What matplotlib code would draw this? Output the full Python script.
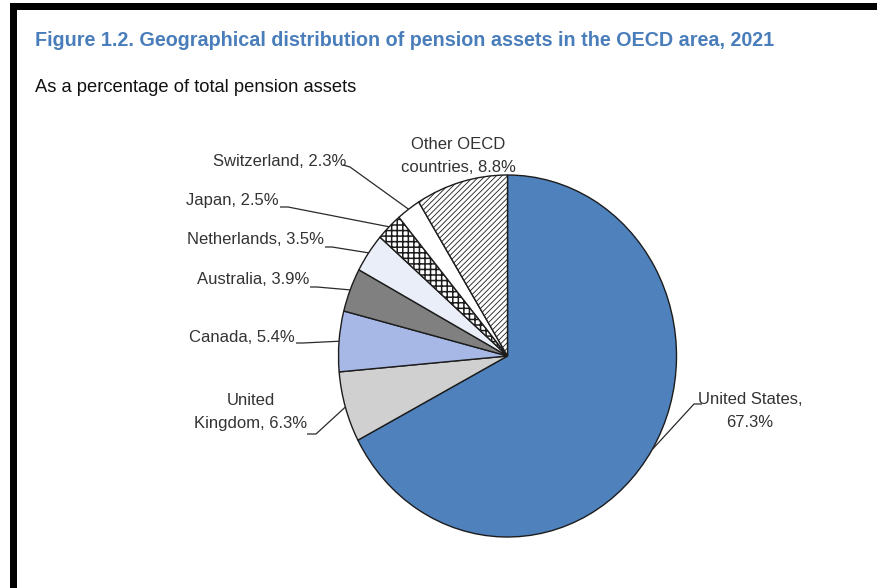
import matplotlib
matplotlib.use("Agg")
import matplotlib.pyplot as plt
import numpy as np
from matplotlib.patches import Rectangle

# ---------------- data ----------------
countries = ["United States", "United Kingdom", "Canada", "Australia",
             "Netherlands", "Japan", "Switzerland", "Other OECD countries"]
shares = [67.3, 6.3, 5.4, 3.9, 3.5, 2.5, 2.3, 8.8]
label_names = ["United States,\n", "United\nKingdom, ", "Canada, ", "Australia, ",
               "Netherlands, ", "Japan, ", "Switzerland, ", "Other OECD\ncountries, "]

title = "Figure 1.2. Geographical distribution of pension assets in the OECD area, 2021"
subtitle = "As a percentage of total pension assets"

# ---------------- style ----------------
colors = ["#4F81BD", "#D0D0D0", "#A8B8E6", "#808080", "#E9EEF8", "#FFFFFF", "#FFFFFF", "#FFFFFF"]
hatches = [None, None, None, None, None, "+++", None, "//////"]
hatch_lw = [1.0, 1.0, 1.0, 1.0, 1.0, 1.1, 1.0, 0.6]

plt.rcParams['font.family'] = ['Liberation Sans', 'DejaVu Sans']
plt.rcParams['hatch.linewidth'] = 0.7

W, H = 877, 588
CX, CY = 507.5, 356.0   # pie centre in image pixels
RX, RY = 169.0, 181.0   # pie radii in image pixels

# label placement in image pixels: (x, y, ha), leader start (x, y), elbow (x, y)
label_pos = [(750, 411, 'center'), (251, 412, 'center'), (295, 337, 'right'),
             (309, 280, 'right'), (324, 239, 'right'), (279, 201, 'right'),
             (346, 161, 'right'), (458, 156, 'center')]
leader_start = [(702, 404), (307, 434), (296, 343), (310, 287), (325, 247),
                (280, 207), (343, 165), None]
leader_elbow = [(694, 404), (316, 434), (303, 343), (317, 287), (332, 247),
                (288, 207), (350, 167), None]

fig = plt.figure(figsize=(W / 100, H / 100), dpi=100)
ax = fig.add_axes([0, 0, 1, 1])


def px(x, y):
    return ((x - CX) / RX, (CY - y) / RY)


wedges, _ = ax.pie(shares, colors=colors, startangle=90, counterclock=False,
                   radius=1, center=(0, 0),
                   wedgeprops=dict(edgecolor="#1c1c1c", linewidth=1.0))
for w, h, lw in zip(wedges, hatches, hatch_lw):
    if h:
        w.set_hatch(h)
        if hasattr(w, "set_hatch_linewidth"):
            w.set_hatch_linewidth(lw)

ax.set_aspect('auto')
x0, y1 = px(0, 0)
x1, y0 = px(W, H)
ax.set_xlim(x0, x1)
ax.set_ylim(y0, y1)
ax.axis('off')

txt_color = "#333333"
for i, (w, name, v) in enumerate(zip(wedges, label_names, shares)):
    lx, ly, ha = label_pos[i]
    tx, ty = px(lx, ly)
    ax.text(tx, ty, f"{name}{v:.1f}%", ha=ha, va='center', fontsize=12,
            color=txt_color, linespacing=1.6, multialignment='center')
    if leader_start[i] is not None:
        mid = np.deg2rad((w.theta1 + w.theta2) / 2.0)
        ax_pt = (np.cos(mid) * 1.0, np.sin(mid) * 1.0)
        s = px(*leader_start[i])
        e = px(*leader_elbow[i])
        ax.plot([s[0], e[0], ax_pt[0]], [s[1], e[1], ax_pt[1]],
                color="#2a2a2a", lw=0.9, solid_capstyle='butt')

fig.text(35 / W, 1 - 41 / H, title, fontsize=14.2, fontweight='bold',
         color="#4A7EBB", ha='left', va='center')
fig.text(35 / W, 1 - 88 / H, subtitle, fontsize=13.2, color="#111111",
         ha='left', va='center')

# black frame bars (top and left)
fig.add_artist(Rectangle((10 / W, 1 - 10 / H), (W - 10) / W, 7 / H,
                         transform=fig.transFigure, color='black', lw=0))
fig.add_artist(Rectangle((10 / W, 0), 7 / W, (H - 3) / H,
                         transform=fig.transFigure, color='black', lw=0))

fig.savefig("out.png", dpi=100)
